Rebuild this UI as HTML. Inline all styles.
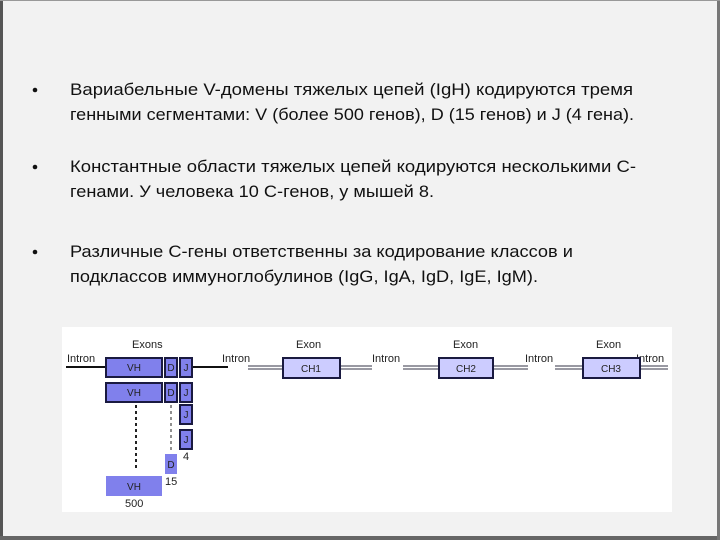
<!DOCTYPE html>
<html><head><meta charset="utf-8"><style>
html,body{margin:0;padding:0;background:#f2f2f2;}
svg{display:block}
</style></head><body>
<svg width="720" height="540" xmlns="http://www.w3.org/2000/svg" font-family="'Liberation Sans', sans-serif">
<rect x="0" y="0" width="720" height="540" fill="#f2f2f2"/>
<rect x="0" y="0" width="3" height="540" fill="#555"/>
<rect x="0" y="536" width="720" height="4" fill="#666"/>
<rect x="717" y="0" width="3" height="540" fill="#777"/>
<rect x="0" y="0" width="720" height="1" fill="#999"/>
<g font-size="17" fill="#111">
<circle cx="35" cy="90" r="2.3"/><circle cx="35" cy="167" r="2.3"/><circle cx="35" cy="252" r="2.3"/>
<text x="70" y="95" textLength="563" lengthAdjust="spacingAndGlyphs">Вариабельные V-домены тяжелых цепей (IgH) кодируются тремя</text>
<text x="70" y="120" textLength="564" lengthAdjust="spacingAndGlyphs">генными сегментами: V (более 500 генов), D (15 генов) и J (4 гена).</text>
<text x="70" y="172" textLength="566" lengthAdjust="spacingAndGlyphs">Константные области тяжелых цепей кодируются несколькими С-</text>
<text x="70" y="197" textLength="364" lengthAdjust="spacingAndGlyphs">генами. У человека 10 С-генов, у мышей 8.</text>
<text x="70" y="257" textLength="503" lengthAdjust="spacingAndGlyphs">Различные С-гены ответственны за кодирование классов и</text>
<text x="70" y="282" textLength="468" lengthAdjust="spacingAndGlyphs">подклассов иммуноглобулинов (IgG, IgA, IgD, IgE, IgM).</text>
</g>
<rect x="62" y="327" width="610" height="185" fill="#fff"/>
<g font-size="11" fill="#222">
<text x="67" y="362">Intron</text>
<text x="222" y="362">Intron</text>
<text x="372" y="362">Intron</text>
<text x="525" y="362">Intron</text>
<text x="636" y="362">Intron</text>
<text x="132" y="348">Exons</text>
<text x="296" y="348">Exon</text>
<text x="453" y="348">Exon</text>
<text x="596" y="348">Exon</text>
<text x="125" y="507">500</text>
<text x="165" y="485">15</text>
<text x="183" y="460">4</text>
</g>
<g stroke="#111" stroke-width="2">
<line x1="66" y1="367" x2="105" y2="367"/>
<line x1="192" y1="367" x2="228" y2="367"/>
</g>
<g stroke="#334" stroke-width="1">
<line x1="248" y1="366" x2="282" y2="366"/><line x1="248" y1="369" x2="282" y2="369"/>
<line x1="340" y1="366" x2="372" y2="366"/><line x1="340" y1="369" x2="372" y2="369"/>
<line x1="403" y1="366" x2="438" y2="366"/><line x1="403" y1="369" x2="438" y2="369"/>
<line x1="493" y1="366" x2="528" y2="366"/><line x1="493" y1="369" x2="528" y2="369"/>
<line x1="555" y1="366" x2="582" y2="366"/><line x1="555" y1="369" x2="582" y2="369"/>
<line x1="640" y1="366" x2="668" y2="366"/><line x1="640" y1="369" x2="668" y2="369"/>
</g>
<g fill="#8080ec" stroke="#1a1a40" stroke-width="2">
<rect x="106" y="358" width="56" height="19"/>
<rect x="165" y="358" width="12" height="19"/>
<rect x="180" y="358" width="12" height="19"/>
<rect x="106" y="383" width="56" height="19"/>
<rect x="165" y="383" width="12" height="19"/>
<rect x="180" y="383" width="12" height="19"/>
<rect x="180" y="405" width="12" height="19"/>
<rect x="180" y="430" width="12" height="19"/>
<rect x="165" y="454" width="12" height="20" stroke="none"/>
<rect x="106" y="476" width="56" height="20" stroke="none"/>
</g>
<g fill="#ccccff" stroke="#1a1a40" stroke-width="2">
<rect x="283" y="358" width="57" height="20"/>
<rect x="439" y="358" width="54" height="20"/>
<rect x="583" y="358" width="57" height="20"/>
</g>
<g stroke="#222" stroke-width="2" stroke-dasharray="3,3">
<line x1="136" y1="405" x2="136" y2="470"/>
</g>
<g stroke="#222" stroke-width="1" stroke-dasharray="3,3">
<line x1="171" y1="405" x2="171" y2="452"/>
</g>
<g font-size="10" fill="#222" text-anchor="middle">
<text x="134" y="371">VH</text><text x="171" y="371">D</text><text x="186" y="371">J</text>
<text x="134" y="396">VH</text><text x="171" y="396">D</text><text x="186" y="396">J</text>
<text x="186" y="418">J</text><text x="186" y="443">J</text>
<text x="171" y="468">D</text><text x="134" y="490">VH</text>
<text x="311" y="372">CH1</text><text x="466" y="372">CH2</text><text x="611" y="372">CH3</text>
</g>
</svg>
</body></html>
